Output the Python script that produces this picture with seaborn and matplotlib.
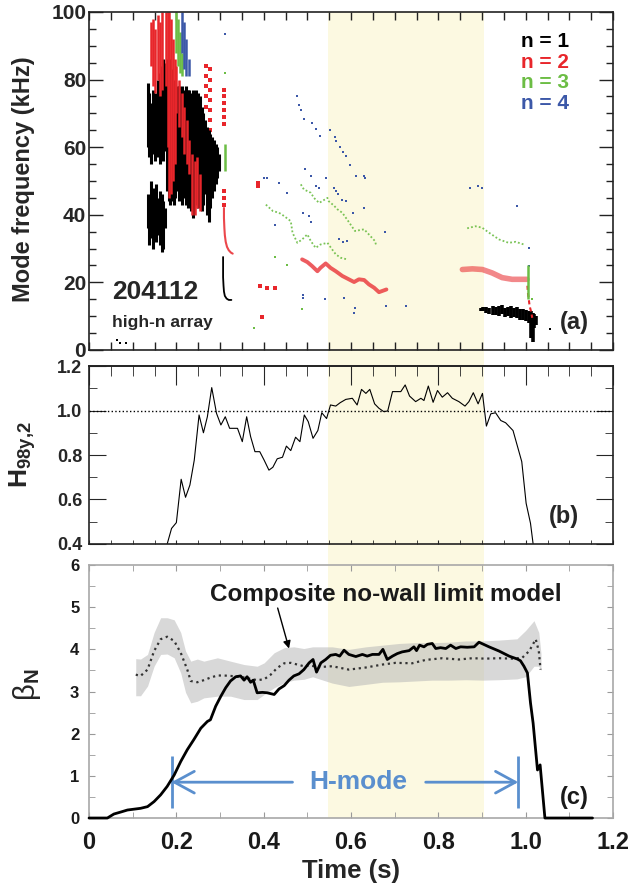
import numpy as np
import pandas as pd
import matplotlib
matplotlib.use('Agg')
import matplotlib.pyplot as plt
import matplotlib.transforms as mtransforms
from matplotlib.patches import Rectangle
from matplotlib.ticker import MultipleLocator, FormatStrFormatter
import seaborn as sns

sns.set_style('ticks')
plt.rcParams['font.family'] = ['Liberation Sans', 'DejaVu Sans']
plt.rcParams['font.weight'] = 'bold'
plt.rcParams['axes.labelweight'] = 'bold'
plt.rcParams['mathtext.fontset'] = 'custom'
plt.rcParams['mathtext.rm'] = 'Liberation Sans:normal'
plt.rcParams['mathtext.bf'] = 'Liberation Sans:bold'
plt.rcParams['mathtext.it'] = 'Liberation Sans:italic'

# ---------------- data ----------------
# shaded time window (s)
win_start, win_end = 0.547, 0.905

mode_labels = ['n = 1', 'n = 2', 'n = 3', 'n = 4']
mode_colors = ['#000000', '#E8262B', '#6CBD45', '#3C58A8']

# panel (a): n=1 (black) vertical streaks, time / freq low / freq high (kHz)
n1a_t = [0.134, 0.138, 0.142, 0.146, 0.150, 0.154, 0.158, 0.162, 0.166, 0.170, 0.174]
n1a_lo = [60, 57, 55, 58, 56, 60, 57, 55, 58, 56, 59]
n1a_hi = [79, 76, 73, 77, 71, 76, 80, 82, 84, 86, 85]
n1b_lo = [36, 31, 33, 30, 35, 32, 34, 31, 29, 30, 36]
n1b_hi = [46, 45, 50, 48, 47, 49, 45, 47, 46, 44, 42]
n1c_t = [0.178, 0.182, 0.186, 0.190, 0.194, 0.198, 0.202, 0.206, 0.210, 0.214, 0.218,
         0.222, 0.226, 0.230, 0.234, 0.238, 0.242, 0.246, 0.250, 0.254, 0.258, 0.262,
         0.266, 0.270, 0.274, 0.278, 0.282, 0.286, 0.290, 0.294, 0.298]
n1c_hi = [86, 86, 85, 83, 80, 79, 78, 78, 77, 78, 77, 78, 77, 77, 76, 77, 76, 77, 76, 75,
          72, 70, 68, 66, 65, 64, 63, 62, 61, 60, 58]
n1c_lo = [47, 44, 43, 44, 43, 45, 47, 44, 46, 43, 45, 43, 42, 45, 41, 39, 43, 44, 42, 45,
          41, 43, 46, 40, 38, 42, 45, 47, 49, 51, 53]
n1r_t = [0.897, 0.903, 0.910, 0.917, 0.924, 0.931, 0.938, 0.945, 0.952, 0.959, 0.966,
         0.973, 0.980, 0.987, 0.994, 1.001, 1.008, 1.012, 1.016, 1.020, 1.023]
n1r_hi = [12.3, 12.6, 12.8, 12.4, 13.0, 12.6, 12.9, 13.2, 12.5, 12.8, 13.0, 12.3, 12.6,
          12.2, 12.0, 11.8, 11.5, 11.6, 11.0, 10.5, 10.0]
n1r_lo = [11.6, 11.5, 11.0, 10.6, 10.4, 10.2, 10.0, 10.5, 9.8, 10.0, 9.6, 9.8, 9.4, 9.0,
          8.8, 8.5, 8.0, 3.5, 2.5, 6.5, 7.5]
n1_hook_t = [0.307, 0.307, 0.307, 0.308, 0.309, 0.311, 0.315, 0.320, 0.326]
n1_hook_f = [27.5, 24.5, 21.5, 19.0, 17.3, 16.0, 15.2, 14.8, 14.8]
n1_dot_t = [0.065, 0.072, 0.085, 1.055]
n1_dot_f = [2.8, 2.2, 2.0, 6.1]

# n=2 (red)
n2a_t = [0.142, 0.147, 0.152, 0.157, 0.162, 0.167, 0.176, 0.180, 0.184, 0.188, 0.192,
         0.196, 0.200, 0.206, 0.212, 0.218, 0.224, 0.230, 0.236, 0.242, 0.248, 0.254]
n2a_lo = [84, 78, 76, 80, 75, 77, 78, 60, 45, 46, 50, 55, 70, 66, 63, 58, 55, 52, 40, 40, 42, 41]
n2a_hi = [97, 98, 95, 99, 97, 100, 100, 100, 100, 98, 92, 86, 84, 80, 76, 72, 68, 62, 58, 56, 57, 52]
n2_dot_t = [0.268, 0.268, 0.268, 0.268, 0.268, 0.276, 0.276, 0.276, 0.276, 0.276, 0.276, 0.276,
            0.221, 0.229, 0.252, 0.210, 0.256, 0.240, 0.200,
            0.309, 0.309, 0.309, 0.309, 0.309, 0.309, 0.309, 0.309, 0.309,
            0.388, 0.388, 0.391, 0.408, 0.426, 0.397]
n2_dot_f = [84, 81, 78, 75, 72, 83, 80, 77, 74, 71, 68, 65,
            56.3, 61.3, 57.3, 51.2, 59.3, 62, 70,
            77, 75, 73, 71, 69, 67, 47, 45, 43,
            49.4, 48.5, 18.9, 18.4, 18.4, 9.8]
n2_curve_t = [0.309, 0.309, 0.310, 0.311, 0.313, 0.316, 0.320, 0.325, 0.329]
n2_curve_f = [42, 39, 36, 34, 32, 30.5, 29.5, 28.8, 28.5]
n2m_t = [0.488, 0.500, 0.511, 0.523, 0.530, 0.542, 0.553, 0.565, 0.580, 0.595, 0.607,
         0.618, 0.630, 0.641, 0.653, 0.664, 0.681]
n2m_f = [26.8, 26.0, 24.8, 23.3, 24.3, 25.6, 24.3, 23.3, 21.9, 20.9, 20.1, 20.9, 20.7,
         19.4, 18.4, 17.1, 17.9]
n2r_t = [0.855, 0.878, 0.901, 0.923, 0.946, 0.969, 0.992, 1.003]
n2r_f = [23.8, 24.0, 23.8, 22.8, 21.4, 20.9, 20.9, 20.9]
n2v_t = [1.004, 1.005, 1.007, 1.009, 1.012, 1.015]
n2v_f = [19, 17, 15, 13, 11.5, 9.5]

# n=3 (green)
n3a_t = [0.200, 0.204, 0.208, 0.212, 0.311, 1.006]
n3a_lo = [88, 84, 82, 81, 53, 15]
n3a_hi = [100, 98, 94, 88, 61, 25]
n3_t1 = [0.485, 0.492, 0.508, 0.515, 0.527, 0.546, 0.549, 0.561, 0.569, 0.580, 0.591,
         0.599, 0.609, 0.630, 0.655, 0.658]
n3_f1 = [49.0, 47.5, 46.5, 45.0, 43.5, 45.0, 44.0, 42.7, 41.6, 40.6, 38.6, 37.1, 35.2,
         35.7, 32.2, 30.7]
n3_t2 = [0.405, 0.421, 0.435, 0.447, 0.462, 0.466, 0.477, 0.488, 0.500, 0.508, 0.519,
         0.530, 0.546, 0.557, 0.565, 0.576, 0.591]
n3_f2 = [43.0, 41.1, 40.6, 39.6, 38.1, 34.7, 31.7, 32.7, 34.2, 32.2, 30.2, 31.2, 31.7,
         29.7, 28.3, 27.3, 26.8]
n3_tr = [0.866, 0.885, 0.900, 0.916, 0.939, 0.961, 0.977, 0.996]
n3_fr = [36.0, 36.6, 36.2, 34.7, 32.7, 31.7, 32.0, 31.2]
n3_dot_t = [0.311, 0.427, 0.454, 0.487, 0.378, 1.015]
n3_dot_f = [82, 27.5, 25.2, 12.0, 6.6, 15.0]

# n=4 (blue)
n4a_t = [0.213, 0.218, 0.223, 0.228]
n4a_lo = [88, 83, 81, 81]
n4a_hi = [100, 97, 92, 86]
n4_t = [0.477, 0.481, 0.485, 0.492, 0.511, 0.519, 0.528, 0.552, 0.563, 0.566, 0.574,
        0.582, 0.588, 0.597, 0.612, 0.630, 0.633,
        0.495, 0.508, 0.519, 0.527, 0.543, 0.561, 0.566, 0.571, 0.580, 0.588, 0.604,
        0.630, 0.677,
        0.401, 0.408, 0.434, 0.453, 0.427, 0.491, 0.504, 0.508, 0.572, 0.582, 0.591,
        0.489, 0.490, 0.540, 0.584, 0.609, 0.607, 0.681, 0.725,
        0.872, 0.891, 0.899, 0.979, 1.007, 1.007, 0.311]
n4_f = [75.0, 72.6, 71.1, 68.4, 67.2, 65.4, 63.4, 65.0, 63.0, 61.8, 60.0, 58.5, 57.3,
        54.6, 51.4, 51.4, 50.9,
        53.6, 51.4, 48.5, 48.0, 50.9, 48.0, 47.0, 46.0, 44.5, 44.0, 40.4, 42.1, 35.0,
        50.9, 50.9, 49.4, 46.5, 37.0, 40.4, 39.6, 37.8, 32.9, 31.9, 32.2, 16.4, 15.5,
        15.0, 15.5, 12.5, 11.0, 13.0, 13.0,
        48.0, 48.5, 48.0, 42.5, 30.2, 24.8, 93.5]

# panel (b): H98y,2
h98_t = [0.165, 0.179, 0.189, 0.200, 0.211, 0.221, 0.231, 0.241, 0.252, 0.262, 0.271,
         0.281, 0.292, 0.302, 0.312, 0.322, 0.340, 0.351, 0.361, 0.370, 0.380, 0.391,
         0.401, 0.412, 0.421, 0.431, 0.443, 0.452, 0.462, 0.473, 0.483, 0.493, 0.502,
         0.513, 0.524, 0.533, 0.544, 0.553, 0.565, 0.575, 0.588, 0.603, 0.614, 0.624,
         0.634, 0.643, 0.654, 0.664, 0.675, 0.684, 0.695, 0.714, 0.724, 0.734, 0.748,
         0.760, 0.767, 0.777, 0.788, 0.798, 0.809, 0.821, 0.832, 0.847, 0.861, 0.870,
         0.880, 0.891, 0.901, 0.910, 0.920, 0.931, 0.943, 0.954, 0.971, 0.991, 1.001,
         1.011, 1.017, 1.025]
h98_v = [0.30, 0.40, 0.47, 0.496, 0.691, 0.61, 0.665, 0.777, 0.98, 0.90, 0.972, 1.103,
         0.987, 0.935, 0.972, 0.92, 0.92, 0.86, 0.972, 0.883, 0.815, 0.815, 0.777, 0.732,
         0.745, 0.783, 0.79, 0.84, 0.82, 0.88, 0.86, 0.98, 0.95, 0.875, 0.91, 0.99, 0.964,
         1.025, 1.02, 1.035, 1.05, 1.055, 1.025, 1.095, 1.077, 1.095, 1.03, 1.01, 0.995,
         0.998, 1.085, 1.085, 1.115, 1.065, 1.04, 1.055, 1.045, 1.11, 1.037, 1.09, 1.06,
         1.08, 1.055, 1.04, 1.02, 1.04, 1.08, 1.03, 1.077, 0.93, 0.985, 0.99, 0.955, 0.945,
         0.91, 0.77, 0.583, 0.493, 0.40, 0.30]

# panel (c): beta_N
bn_t = [0.0, 0.042, 0.057, 0.073, 0.088, 0.103, 0.118, 0.134, 0.149, 0.164, 0.179,
        0.195, 0.210, 0.225, 0.240, 0.256, 0.271, 0.278, 0.290, 0.302, 0.313, 0.324,
        0.336, 0.347, 0.355, 0.362, 0.370, 0.376, 0.385, 0.397, 0.408, 0.424, 0.435,
        0.447, 0.458, 0.469, 0.481, 0.492, 0.504, 0.513, 0.521, 0.531, 0.542, 0.553,
        0.565, 0.574, 0.584, 0.595, 0.611, 0.626, 0.637, 0.649, 0.664, 0.673, 0.683,
        0.695, 0.706, 0.717, 0.733, 0.744, 0.750, 0.757, 0.767, 0.775, 0.786, 0.794,
        0.805, 0.817, 0.828, 0.840, 0.851, 0.866, 0.882, 0.893, 0.916, 0.939, 0.962,
        0.981, 0.988, 0.996, 1.004, 1.011, 1.017, 1.027, 1.033, 1.044, 1.153]
bn_v = [0.0, 0.0, 0.095, 0.143, 0.19, 0.21, 0.23, 0.27, 0.39, 0.55, 0.75, 1.02, 1.34,
        1.62, 1.86, 2.13, 2.29, 2.33, 2.65, 2.89, 3.09, 3.25, 3.35, 3.37, 3.27, 3.35,
        3.22, 3.27, 2.97, 2.98, 2.97, 2.93, 3.06, 3.14, 3.27, 3.37, 3.42, 3.52, 3.68,
        3.76, 3.46, 3.68, 3.76, 3.86, 3.88, 3.84, 3.98, 3.88, 3.83, 3.88, 3.84, 3.88,
        3.88, 4.0, 3.76, 3.84, 3.90, 3.94, 3.97, 4.06, 3.97, 4.10, 4.06, 4.12, 4.14,
        4.02, 4.04, 4.02, 4.10, 4.02, 4.06, 4.05, 4.06, 4.17, 4.06, 3.96, 3.84, 3.77,
        3.73, 3.60, 3.44, 2.73, 2.25, 1.14, 1.26, 0.0, 0.0]

# composite no-wall limit (dotted) and its uncertainty band
lim_t = [0.107, 0.118, 0.134, 0.149, 0.164, 0.179, 0.195, 0.210, 0.225, 0.233, 0.248,
         0.263, 0.278, 0.294, 0.309, 0.324, 0.347, 0.370, 0.385, 0.401, 0.416, 0.431,
         0.447, 0.462, 0.477, 0.492, 0.504, 0.527, 0.557, 0.595, 0.634, 0.672, 0.702,
         0.740, 0.771, 0.809, 0.847, 0.878, 0.908, 0.939, 0.970, 0.992, 1.008, 1.023,
         1.030, 1.034]
lim_v = [3.40, 3.37, 3.52, 3.96, 4.24, 4.30, 4.20, 3.92, 3.52, 3.25, 3.22, 3.27, 3.33,
         3.38, 3.38, 3.37, 3.35, 3.30, 3.27, 3.29, 3.40, 3.56, 3.67, 3.68, 3.64, 3.60,
         3.62, 3.58, 3.60, 3.52, 3.57, 3.64, 3.68, 3.67, 3.75, 3.79, 3.76, 3.79, 3.78,
         3.79, 3.78, 3.80, 3.96, 4.24, 3.96, 3.52]
band_t = [0.107, 0.118, 0.134, 0.149, 0.164, 0.179, 0.195, 0.210, 0.221, 0.233, 0.248,
          0.263, 0.294, 0.324, 0.355, 0.385, 0.401, 0.424, 0.447, 0.469, 0.492, 0.512,
          0.557, 0.595, 0.634, 0.672, 0.710, 0.748, 0.786, 0.824, 0.863, 0.901, 0.939,
          0.980, 1.000, 1.019, 1.030, 1.035]
band_hi = [3.78, 3.77, 3.88, 4.40, 4.75, 4.75, 4.70, 4.40, 3.96, 3.72, 3.77, 3.72, 3.80,
           3.72, 3.64, 3.60, 3.68, 3.92, 4.04, 4.06, 4.02, 4.06, 4.06, 4.00, 4.06, 4.10,
           4.14, 4.16, 4.16, 4.17, 4.20, 4.20, 4.22, 4.25, 4.45, 4.68, 4.40, 3.90]
band_lo = [2.90, 2.90, 3.13, 3.60, 3.88, 3.89, 3.80, 3.44, 2.98, 2.73, 2.77, 2.85, 2.89,
           2.89, 2.81, 2.81, 2.93, 3.09, 3.21, 3.27, 3.29, 3.35, 3.20, 3.12, 3.17, 3.22,
           3.23, 3.25, 3.27, 3.27, 3.28, 3.27, 3.28, 3.30, 3.35, 3.60, 3.60, 3.50]

# H-mode interval
hmode_start, hmode_end = 0.189, 0.983

time_ticks = [0, 0.2, 0.4, 0.6, 0.8, 1.0, 1.2]
time_labels = ['0', '0.2', '0.4', '0.6', '0.8', '1.0', '1.2']

# ---------------- figure ----------------
yellow = '#FCF9E1'
hblue = '#5A8FCE'

fig = plt.figure(figsize=(6.35, 8.88), dpi=100)
ax_a = fig.add_axes([0.1402, 0.6059, 0.8252, 0.3806])
ax_b = fig.add_axes([0.1402, 0.3874, 0.8252, 0.2004])
ax_c = fig.add_axes([0.1402, 0.0788, 0.8252, 0.2849])
for ax in (ax_a, ax_b, ax_c):
    ax.set_facecolor('none')
    ax.set_xlim(0, 1.2)

# shaded window running through all three panels
trans = mtransforms.blended_transform_factory(ax_c.transData, fig.transFigure)
fig.add_artist(Rectangle((win_start, 0.0788), win_end - win_start, 0.9865 - 0.0788,
                         transform=trans, facecolor=yellow, edgecolor='none', zorder=-1))

# ---- (a) mode spectrogram ----
black, red, green, blue = mode_colors
ax_a.vlines(n1a_t, n1a_lo, n1a_hi, color=black, lw=2.2)
ax_a.vlines(n1a_t, n1b_lo, n1b_hi, color=black, lw=2.2)
ax_a.vlines(n1c_t, n1c_lo, n1c_hi, color=black, lw=2.2)
ax_a.vlines(n1r_t, n1r_lo, n1r_hi, color=black, lw=2.6)
ax_a.plot(n1_hook_t, n1_hook_f, color=black, lw=1.3)
sns.scatterplot(x=n1_dot_t, y=n1_dot_f, ax=ax_a, color=black, s=3, marker='s', linewidth=0)

ax_a.vlines(n2a_t, n2a_lo, n2a_hi, color=red, lw=1.8)
sns.scatterplot(x=n2_dot_t, y=n2_dot_f, ax=ax_a, color=red, s=6, marker='s', linewidth=0)
ax_a.plot(n2_curve_t, n2_curve_f, color=red, lw=1.5, alpha=0.85)
ax_a.plot(n2m_t, n2m_f, color=red, lw=2.8, alpha=0.75, solid_capstyle='round')
ax_a.plot(n2r_t, n2r_f, color=red, lw=4, alpha=0.55, solid_capstyle='round')
ax_a.plot(n2v_t, n2v_f, color=red, lw=1.5, ls=(0, (2, 1.5)))

ax_a.vlines(n3a_t, n3a_lo, n3a_hi, color=green, lw=1.8)
for tt, ff in [(n3_t1, n3_f1), (n3_t2, n3_f2), (n3_tr, n3_fr)]:
    ax_a.plot(tt, ff, color=green, lw=1.3, ls=(0, (1, 1.2)), alpha=0.9)
sns.scatterplot(x=n3_dot_t, y=n3_dot_f, ax=ax_a, color=green, s=4, marker='s', linewidth=0)

ax_a.vlines(n4a_t, n4a_lo, n4a_hi, color=blue, lw=1.8)
sns.scatterplot(x=n4_t, y=n4_f, ax=ax_a, color=blue, s=4.5, marker='s', linewidth=0)

ax_a.set_ylim(0, 100)
ax_a.set_ylabel('Mode frequency (kHz)', fontsize=17)
ax_a.yaxis.set_label_coords(-0.103, 0.506)
ax_a.yaxis.set_major_locator(MultipleLocator(20))
ax_a.yaxis.set_minor_locator(MultipleLocator(5))
ax_a.xaxis.set_major_locator(MultipleLocator(0.2))
ax_a.xaxis.set_minor_locator(MultipleLocator(0.05))
ax_a.tick_params(which='both', direction='in', top=True, right=True, labelbottom=False,
                 width=1, color='#222222')
ax_a.tick_params(axis='y', which='major', length=10, labelsize=15, pad=2)
ax_a.tick_params(axis='y', which='minor', length=5)
ax_a.tick_params(axis='x', which='both', length=6)
for sp in ax_a.spines.values():
    sp.set_linewidth(1.2)
    sp.set_color('#222222')

ax_a.text(0.044, 0.172, '204112', transform=ax_a.transAxes, fontsize=19, va='center')
ax_a.text(0.044, 0.080, 'high-n array', transform=ax_a.transAxes, fontsize=12.5, va='center')
ax_a.text(0.898, 0.082, '(a)', transform=ax_a.transAxes, fontsize=17, va='center')
for i, (lab, col) in enumerate(zip(mode_labels, mode_colors)):
    ax_a.text(0.824, 0.912 - 0.061 * i, lab, color=col, transform=ax_a.transAxes,
              fontsize=15, va='center')

# ---- (b) H98y,2 ----
sns.lineplot(x=h98_t, y=h98_v, ax=ax_b, color='black', lw=0.8, estimator=None, sort=False)
ax_b.axhline(1.0, color='black', lw=1.0, ls=':')
ax_b.set_ylim(0.4, 1.2)
ax_b.set_ylabel(r'$\mathbf{H}_{\mathbf{98y{,}2}}$', fontsize=19)
ax_b.yaxis.set_label_coords(-0.097, 0.5)
ax_b.yaxis.set_major_locator(MultipleLocator(0.2))
ax_b.yaxis.set_minor_locator(MultipleLocator(0.1))
ax_b.yaxis.set_major_formatter(FormatStrFormatter('%.1f'))
ax_b.xaxis.set_major_locator(MultipleLocator(0.2))
ax_b.xaxis.set_minor_locator(MultipleLocator(0.05))
ax_b.tick_params(axis='x', which='both', direction='in', top=False, bottom=True, length=3,
                 labelbottom=False)
ax_b.tick_params(axis='y', which='both', direction='in', left=True, right=True)
ax_b.tick_params(axis='y', which='major', length=12, labelsize=13, pad=5)
ax_b.tick_params(axis='y', which='minor', length=6)
sec = ax_b.secondary_xaxis('top')
sec.xaxis.set_major_locator(MultipleLocator(0.2))
sec.xaxis.set_minor_locator(MultipleLocator(0.05))
sec.tick_params(which='major', direction='in', length=14, labeltop=False)
sec.tick_params(which='minor', direction='in', length=7)
for sp in list(ax_b.spines.values()) + list(sec.spines.values()):
    sp.set_linewidth(1.2)
    sp.set_color('#222222')
ax_b.text(0.878, 0.157, '(b)', transform=ax_b.transAxes, fontsize=17, va='center')

# ---- (c) beta_N ----
ax_c.fill_between(band_t, band_lo, band_hi, color='#B8B8B8', alpha=0.55, lw=0)
sns.lineplot(x=lim_t, y=lim_v, ax=ax_c, color='#333333', lw=1.6, ls=':',
             estimator=None, sort=False)
sns.lineplot(x=bn_t, y=bn_v, ax=ax_c, color='black', lw=2.0, estimator=None, sort=False,
             clip_on=False, zorder=3)
ax_c.vlines([hmode_start, hmode_end], 0.23, 1.46, color=hblue, lw=2)
ax_c.annotate('', xy=(hmode_start, 0.85), xytext=(0.466, 0.85),
              arrowprops=dict(arrowstyle='->,head_length=0.55,head_width=0.3', color=hblue,
                              lw=2, mutation_scale=26, shrinkA=0, shrinkB=0))
ax_c.annotate('', xy=(hmode_end, 0.85), xytext=(0.771, 0.85),
              arrowprops=dict(arrowstyle='->,head_length=0.55,head_width=0.3', color=hblue,
                              lw=2, mutation_scale=26, shrinkA=0, shrinkB=0))
ax_c.text(0.616, 0.85, 'H-mode', color=hblue, fontsize=19, ha='center', va='center')
ax_c.text(0.68, 5.29, 'Composite no-wall limit model', fontsize=17.5, ha='center',
          va='center', color='#1a1a1a')
ax_c.annotate('', xy=(0.458, 4.02), xytext=(0.432, 4.98),
              arrowprops=dict(arrowstyle='-|>', color='black', lw=1.0, mutation_scale=11,
                              shrinkA=0, shrinkB=0))
ax_c.text(0.898, 0.083, '(c)', transform=ax_c.transAxes, fontsize=17, va='center',
          color='#1a1a1a')

ax_c.set_ylim(0, 6)
ax_c.set_xticks(time_ticks)
ax_c.set_xticklabels(time_labels)
ax_c.xaxis.set_minor_locator(MultipleLocator(0.1))
ax_c.yaxis.set_major_locator(MultipleLocator(1))
ax_c.yaxis.set_minor_locator(MultipleLocator(0.5))
ax_c.tick_params(which='both', direction='in', top=True, right=True, length=4,
                 color='#999999', labelcolor='#1a1a1a')
ax_c.tick_params(axis='x', labelsize=17, pad=9)
ax_c.tick_params(axis='y', labelsize=12, pad=7)
for sp in ax_c.spines.values():
    sp.set_linewidth(1.2)
    sp.set_color('#A8A8A8')
ax_c.set_xlabel('Time (s)', fontsize=18.5, labelpad=4)
ax_c.set_ylabel(r'$\mathrm{\beta}_\mathbf{N}$', fontsize=21, fontweight='normal')
ax_c.yaxis.set_label_coords(-0.088, 0.526)

fig.savefig('out.png', dpi=100)
